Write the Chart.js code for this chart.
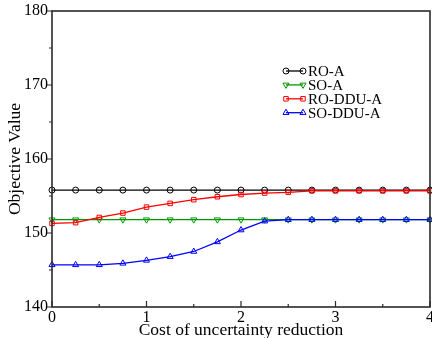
<!DOCTYPE html>
<html>
<head>
<meta charset="utf-8">
<script src="https://cdn.jsdelivr.net/npm/chart.js@4.4.1/dist/chart.umd.min.js"></script>
<style>
html,body{margin:0;padding:0;background:#fff;}
#wrap{width:432px;height:338px;}
</style>
</head>
<body>
<div id="wrap"><canvas id="c" width="432" height="338"></canvas></div>
<script>
const xValues = [0, 0.25, 0.5, 0.75, 1, 1.25, 1.5, 1.75, 2, 2.25, 2.5, 2.75, 3, 3.25, 3.5, 3.75, 4];
const seriesNames = ['RO-A', 'SO-A', 'RO-DDU-A', 'SO-DDU-A'];
const roA    = [155.8,155.8,155.8,155.8,155.8,155.8,155.8,155.8,155.8,155.8,155.8,155.8,155.8,155.8,155.8,155.8,155.8];
const soA    = [151.8,151.8,151.8,151.8,151.8,151.8,151.8,151.8,151.8,151.8,151.8,151.8,151.8,151.8,151.8,151.8,151.8];
const roDduA = [151.3,151.4,152.1,152.7,153.5,154.0,154.5,154.9,155.2,155.4,155.5,155.7,155.7,155.7,155.7,155.7,155.7];
const soDduA = [145.7,145.7,145.7,145.9,146.3,146.8,147.5,148.8,150.4,151.6,151.8,151.8,151.8,151.8,151.8,151.8,151.8];
const xTickLabels = ['0', '1', '2', '3', '4'];
const yTickLabels = ['140', '150', '160', '170', '180'];

const FONT = "'Liberation Serif', 'DejaVu Serif', serif";

function pts(arr){ return arr.map((v,i)=>({x:xValues[i], y:v})); }

const styles = [
  {color:'#000000', pointStyle:'circle',   rotation:0,   radius:3,   order:4},
  {color:'#009a00', pointStyle:'triangle', rotation:180, radius:3.5, order:3},
  {color:'#ff0000', pointStyle:'rect',     rotation:0,   radius:3.2, order:2},
  {color:'#0000ff', pointStyle:'triangle', rotation:0,   radius:3.5, order:1}
];
const allData = [roA, soA, roDduA, soDduA];

const datasets = allData.map((d,i)=>({
  label: seriesNames[i],
  data: pts(d),
  borderColor: styles[i].color,
  backgroundColor: 'rgba(0,0,0,0)',
  pointBorderColor: styles[i].color,
  pointBackgroundColor: 'rgba(0,0,0,0)',
  pointStyle: styles[i].pointStyle,
  pointRotation: styles[i].rotation,
  pointRadius: styles[i].radius,
  pointBorderWidth: 1,
  borderWidth: 1.3,
  order: styles[i].order,
  tension: 0,
  clip: 8
}));

const fixPadding = {
  id: 'fixPadding',
  beforeLayout(chart){
    Object.values(chart.scales).forEach(s => { s.getPadding = () => ({left:0, right:0, top:0, bottom:0}); });
  }
};

const framePlugin = {
  id: 'frame',
  afterDatasetsDraw(chart){
    const ctx = chart.ctx, a = chart.chartArea;
    const xs = chart.scales.x, ys = chart.scales.y;
    ctx.save();
    ctx.strokeStyle = '#2a2a2a';
    ctx.lineWidth = 1.6;
    ctx.strokeRect(a.left, a.top, a.right - a.left, a.bottom - a.top);
    ctx.lineWidth = 1.2;
    ctx.beginPath();
    for (let v = 0; v <= 4.0001; v += 0.5) {
      const px = xs.getPixelForValue(v);
      const len = (Math.abs(v - Math.round(v)) < 1e-6) ? 6 : 3;
      ctx.moveTo(px, a.bottom); ctx.lineTo(px, a.bottom - len);
    }
    for (let v = 140; v <= 180; v += 5) {
      const py = ys.getPixelForValue(v);
      const len = (v % 10 === 0) ? 5 : 3;
      ctx.moveTo(a.left, py); ctx.lineTo(a.left - len, py);
    }
    ctx.stroke();
    ctx.restore();
  },
  afterDraw(chart){
    const ctx = chart.ctx, a = chart.chartArea;
    const x1 = a.left + 234, x2 = a.left + 251, tx = a.left + 256;
    let y = a.top + 60;
    ctx.save();
    ctx.font = "15px " + FONT;
    ctx.textBaseline = 'middle';
    chart.data.datasets.forEach((ds, i) => {
      ctx.strokeStyle = ds.borderColor;
      ctx.lineWidth = 1.3;
      ctx.beginPath(); ctx.moveTo(x1, y); ctx.lineTo(x2, y); ctx.stroke();
      const o = {pointStyle: ds.pointStyle, rotation: ds.pointRotation, radius: ds.pointRadius, borderWidth: 1};
      ctx.fillStyle = 'rgba(0,0,0,0)';
      ctx.strokeStyle = ds.borderColor;
      ctx.lineWidth = 1;
      Chart.helpers.drawPoint(ctx, o, x1, y);
      Chart.helpers.drawPoint(ctx, o, x2, y);
      ctx.fillStyle = '#000';
      ctx.fillText(ds.label, tx, y + 1);
      y += 13.9;
    });
    ctx.restore();
  }
};

new Chart(document.getElementById('c'), {
  type: 'line',
  data: { datasets },
  options: {
    responsive: false,
    animation: false,
    devicePixelRatio: 1,
    layout: { autoPadding: false, padding: { left: 0, right: 2, top: 11, bottom: 0 } },
    plugins: { legend: { display: false }, tooltip: { enabled: false } },
    scales: {
      x: {
        type: 'linear', min: 0, max: 4,
        grid: { display: false, drawTicks: false },
        border: { display: false },
        ticks: {
          stepSize: 1, padding: 1, color: '#000', maxRotation: 0,
          font: { family: FONT, size: 16 },
          callback: (v) => Number.isInteger(v) ? xTickLabels[v] : ''
        },
        title: { display: true, text: 'Cost of uncertainty reduction', color: '#000',
                 font: { family: FONT, size: 17.5 }, padding: { top: -4, bottom: -3 } },
        afterFit(s){ s.height = 31; }
      },
      y: {
        type: 'linear', min: 140, max: 180,
        grid: { display: false, drawTicks: false },
        border: { display: false },
        ticks: {
          stepSize: 10, padding: 4, color: '#000',
          font: { family: FONT, size: 16 },
          callback: (v) => yTickLabels[(v - 140) / 10]
        },
        title: { display: true, text: 'Objective Value', color: '#000',
                 font: { family: FONT, size: 17.5 }, padding: { top: 5, bottom: 0 } },
        afterFit(s){ s.width = 52; }
      }
    }
  },
  plugins: [fixPadding, framePlugin]
});
</script>
</body>
</html>
